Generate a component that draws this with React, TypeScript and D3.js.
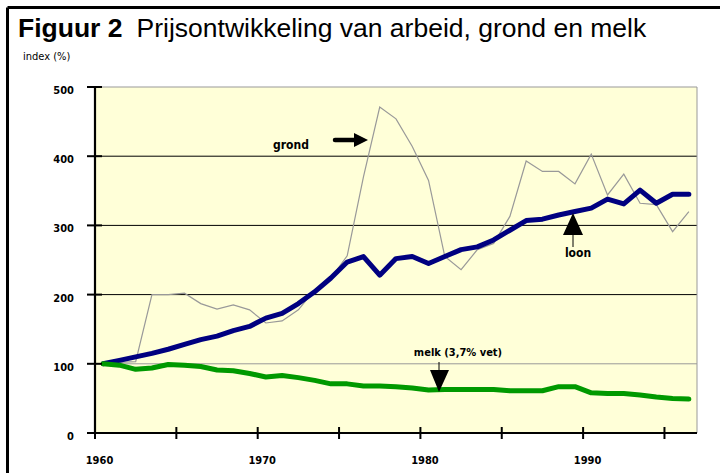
import React from "react";
import * as d3 from "d3";

const years: number[] = d3.range(1960, 1997);
const loon: number[] = [
  100, 105, 110, 115, 121, 128, 135, 140, 148, 154,
  166, 173, 187, 204, 224, 247, 255, 228, 252, 255,
  245, 255, 265, 269, 279, 293, 307, 309, 315, 320,
  325, 338, 331, 351, 332, 345, 345,
];
const grond: number[] = [
  100, 102, 103, 200, 200, 202, 187, 179, 185, 178,
  159, 162, 178, 207, 224, 256, 370, 471, 454, 414,
  365, 255, 236, 265, 274, 313, 393, 378, 378, 360,
  403, 344, 374, 332, 330, 291, 320,
];
const melk: number[] = [
  100, 98, 92, 94, 99, 98, 96, 91, 90, 86,
  81, 83, 80, 76, 71, 71, 68, 68, 67, 65,
  62, 63, 63, 63, 63, 61, 61, 61, 67, 67,
  58, 57, 57, 55, 52, 50, 49,
];
const yTicks: number[] = [0, 100, 200, 300, 400, 500];
const xTickYears: number[] = [1960, 1965, 1970, 1975, 1980, 1985, 1990, 1995];
const xLabelYears: number[] = [1960, 1970, 1980, 1990];

const W = 720;
const H = 473;
const left = 95;
const right = 697;
const top = 87;
const bottom = 433;

export default function App() {
  const x = d3.scaleBand<number>().domain(years).range([left, right]).padding(0);
  const bw = x.bandwidth();
  const cx = (yr: number) => (x(yr) as number) + bw / 2;
  const y = d3.scaleLinear().domain([0, 500]).range([bottom, top]);

  const line = d3
    .line<number>()
    .x((_, i) => cx(years[i]))
    .y((v) => y(v));

  const tickFont = "'DejaVu Sans Condensed', 'DejaVu Sans', sans-serif";

  return (
    <svg
      width={W}
      height={H}
      style={{ position: "absolute", left: 0, top: 0, background: "#fff" }}
    >
      {/* frame */}
      <line x1={7.5} y1={7.5} x2={W} y2={7.5} stroke="#000" strokeWidth={3} />
      <line x1={7.5} y1={7.5} x2={7.5} y2={H} stroke="#000" strokeWidth={3} />

      {/* title */}
      <text x={18} y={37} fontFamily="'Liberation Sans', Arial, sans-serif" fontSize={26.5} fill="#000">
        <tspan fontWeight="bold">Figuur 2</tspan>
        <tspan dx={14}>Prijsontwikkeling van arbeid, grond en melk</tspan>
      </text>
      <text x={23} y={60} fontFamily={tickFont} fontSize={11} fill="#000">
        index (%)
      </text>

      {/* plot background */}
      <rect x={left} y={top} width={right - left} height={bottom - top} fill="#FFFFD8" />

      {/* gridlines */}
      {yTicks
        .filter((t) => t > 0)
        .map((t) => (
          <line
            key={"g" + t}
            x1={left}
            x2={right}
            y1={y(t)}
            y2={y(t)}
            stroke={t === 100 || t === 500 ? "#999" : "#000"}
            strokeWidth={1}
          />
        ))}
      <line x1={right} x2={right} y1={top} y2={bottom} stroke="#999" strokeWidth={1} />

      {/* series */}
      <path d={line(grond) || ""} fill="none" stroke="#999" strokeWidth={1.2} />
      <path d={line(loon) || ""} fill="none" stroke="#000080" strokeWidth={5} strokeLinejoin="round" strokeLinecap="round" />
      <path d={line(melk) || ""} fill="none" stroke="#009900" strokeWidth={5} strokeLinejoin="round" strokeLinecap="round" />

      {/* axes */}
      <line x1={left} x2={left} y1={top} y2={bottom} stroke="#000" strokeWidth={2.2} />
      <line x1={left} x2={right} y1={bottom} y2={bottom} stroke="#000" strokeWidth={2.2} />
      {yTicks.map((t) => (
        <g key={"yt" + t}>
          <line x1={left - 8} x2={left + 7} y1={y(t)} y2={y(t)} stroke="#000" strokeWidth={2} />
          <text
            x={74}
            y={y(t) + 7}
            textAnchor="end"
            fontFamily={tickFont}
            fontWeight="bold"
            fontSize={11}
            fill="#000"
          >
            {t}
          </text>
        </g>
      ))}
      {xTickYears.map((yr) => (
        <line
          key={"xt" + yr}
          x1={x(yr) as number}
          x2={x(yr) as number}
          y1={bottom - 6}
          y2={bottom + 6}
          stroke="#000"
          strokeWidth={2}
        />
      ))}
      {xLabelYears.map((yr) => (
        <text
          key={"xl" + yr}
          x={(x(yr) as number) + 4.5}
          y={464}
          textAnchor="middle"
          fontFamily={tickFont}
          fontWeight="bold"
          fontSize={11}
          fill="#000"
        >
          {yr}
        </text>
      ))}

      {/* annotations */}
      <text x={291} y={149} textAnchor="middle" fontFamily={tickFont} fontWeight="bold" fontSize={12} fill="#000">
        grond
      </text>
      <line x1={335} x2={356} y1={140} y2={140} stroke="#000" strokeWidth={4.5} strokeLinecap="round" />
      <path d="M354,133 L368,140 L354,147 Z" fill="#000" />

      <text x={578} y={257} textAnchor="middle" fontFamily={tickFont} fontWeight="bold" fontSize={12} fill="#000">
        loon
      </text>
      <line x1={573} x2={573} y1={232} y2={247} stroke="#000" strokeWidth={1} />
      <path d="M573,213 L583,235 L563,235 Z" fill="#000" />

      <text x={458} y={356} textAnchor="middle" fontFamily={tickFont} fontWeight="bold" fontSize={11} fill="#000">
        melk (3,7% vet)
      </text>
      <line x1={439} x2={439} y1={362} y2={372} stroke="#000" strokeWidth={1} />
      <path d="M430,370 L449,370 L439,392 Z" fill="#000" />
    </svg>
  );
}
